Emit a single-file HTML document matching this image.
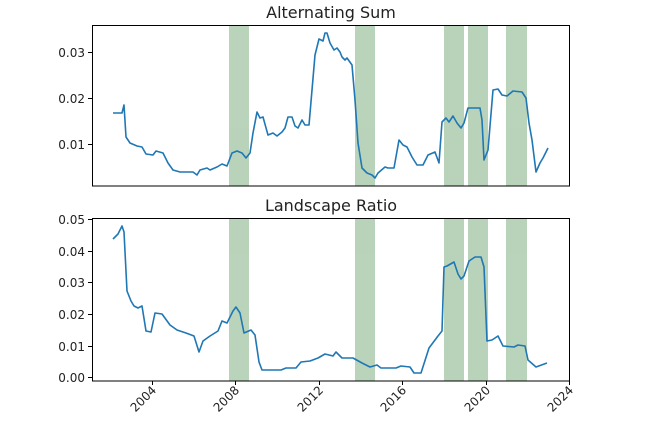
<!DOCTYPE html>
<html><head><style>body{margin:0;background:#fff}svg{display:block}text{font-family:"DejaVu Sans","Liberation Sans",sans-serif;fill:#222}</style></head><body>
<svg width="646" height="435" viewBox="0 0 646 435" xmlns="http://www.w3.org/2000/svg">
<g fill="#2e7d32" opacity="0.33">
<rect x="229" y="25" width="20" height="161"/><rect x="355" y="25" width="20" height="161"/><rect x="444" y="25" width="20" height="161"/><rect x="468" y="25" width="20" height="161"/><rect x="506" y="25" width="21" height="161"/>
<rect x="229" y="219" width="20" height="162"/><rect x="355" y="219" width="20" height="162"/><rect x="444" y="219" width="20" height="162"/><rect x="468" y="219" width="20" height="162"/><rect x="506" y="219" width="21" height="162"/>
</g>
<polyline fill="none" stroke="#1f77b4" stroke-width="1.6" stroke-linejoin="round" points="113,113 122,113 124,105 126,137 130,143 137,146 142,147 146,154 153,155 156,151 163,153 168,163 173,170 180,172 193,172 197,175 200,170 207,168 210,170 217,167 222,164 227,166 232,153 237,151 242,153 246,158 250,153 253,133 257,112 260,118 263,117 268,135 273,133 277,136 282,132 285,128 288,117 292,117 295,126 298,128 302,120 305,125 309,125 312,90 315,55 319,39 323,41 325,33 327,33 330,43 334,50 337,48 340,52 342,57 345,60 347,58 352,65 355,100 358,143 362,168 367,173 372,175 375,178 378,173 385,167 388,168 394,168 399,140 403,145 407,147 412,157 417,165 423,165 428,155 435,152 439,163 442,122 446,118 449,122 453,116 457,123 461,128 464,123 468,108 480,108 482,120 484,160 488,150 493,90 498,89 502,95 507,96 513,91 522,92 526,98 529,123 532,140 536,172 540,163 543,158 548,148"/>
<polyline fill="none" stroke="#1f77b4" stroke-width="1.6" stroke-linejoin="round" points="113,239 118,234 122,226 124,232 127,291 131,301 134,306 138,308 142,306 146,331 151,332 155,313 162,314 170,325 177,330 186,333 194,336 199,352 203,341 210,336 218,331 222,321 227,323 233,311 236,307 240,313 244,333 251,330 255,335 259,362 262,370 268,370 281,370 286,368 296,368 301,362 310,361 318,358 325,354 333,356 336,352 342,358 353,358 362,363 370,367 377,365 381,368 396,368 401,366 410,367 414,373 421,373 429,348 438,336 442,331 444,267 447,266 454,262 458,274 461,279 464,276 469,261 475,257 481,257 484,267 487,341 492,340 498,336 503,346 514,347 518,345 525,346 528,360 536,367 547,363"/>
<g fill="none" stroke="#000" stroke-width="1">
<rect x="92.5" y="25.5" width="477" height="160.5"/>
<rect x="92.5" y="218.5" width="477" height="162.5"/>
<path d="M92,52.5h-4M92,98.5h-4M92,144.5h-4M92,219.5h-4M92,251.5h-4M92,282.5h-4M92,314.5h-4M92,346.5h-4M92,377.5h-4M152.5,381v4M235.5,381v4M319.5,381v4M402.5,381v4M486.5,381v4M569.5,381v4"/>
</g>
<g font-size="12" text-anchor="end">
<text x="85" y="57">0.03</text><text x="85" y="103">0.02</text><text x="85" y="149">0.01</text>
<text x="85" y="224">0.05</text><text x="85" y="256">0.04</text><text x="85" y="287">0.03</text><text x="85" y="319">0.02</text><text x="85" y="351">0.01</text><text x="85" y="382">0.00</text>
</g>
<g font-size="12" text-anchor="end">
<text transform="translate(157,391) rotate(-45)">2004</text>
<text transform="translate(240,391) rotate(-45)">2008</text>
<text transform="translate(324,391) rotate(-45)">2012</text>
<text transform="translate(407,391) rotate(-45)">2016</text>
<text transform="translate(491,391) rotate(-45)">2020</text>
<text transform="translate(574,391) rotate(-45)">2024</text>
</g>
<g font-size="16" text-anchor="middle">
<text x="331" y="18">Alternating Sum</text>
<text x="331" y="211">Landscape Ratio</text>
</g>
</svg>
</body></html>
